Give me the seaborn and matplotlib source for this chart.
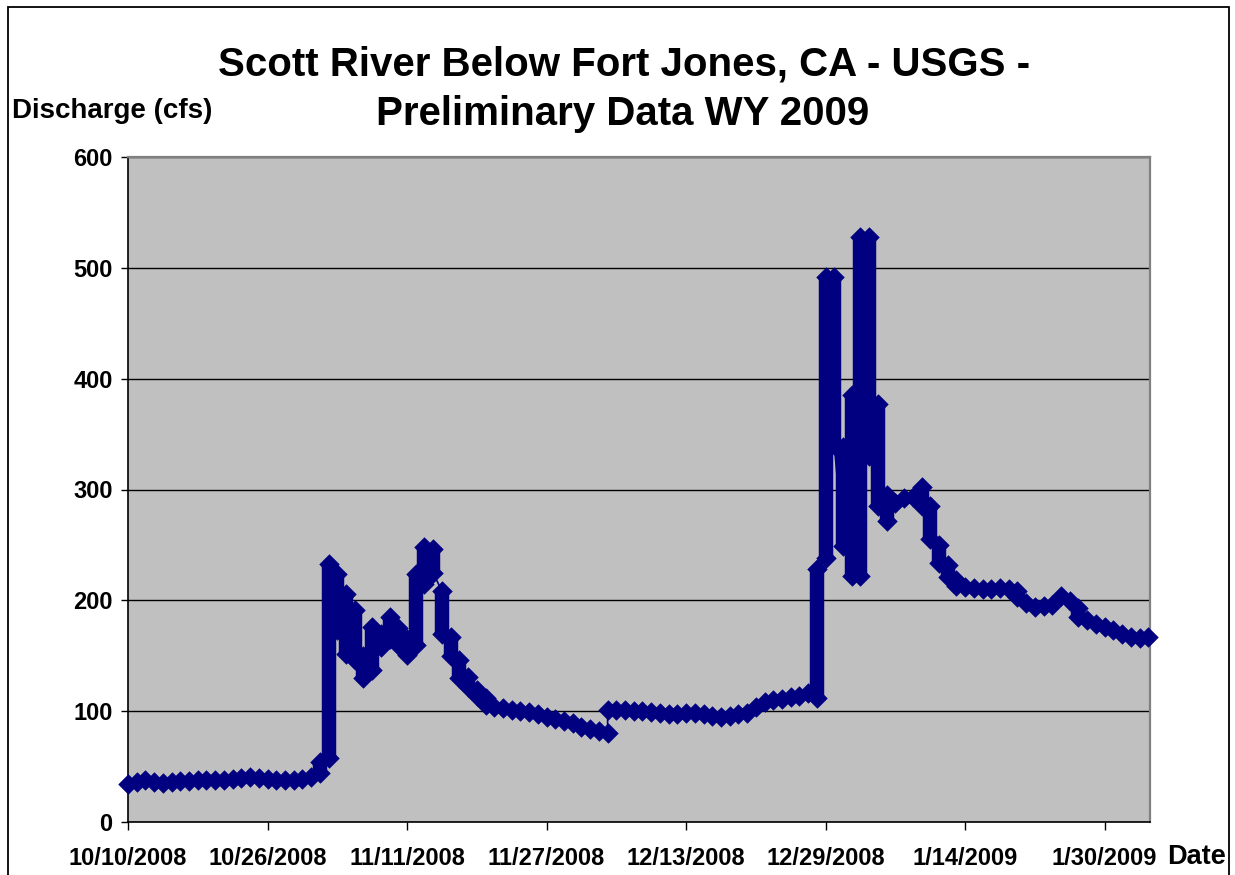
import numpy as np
import pandas as pd
import matplotlib
matplotlib.use("Agg")
import matplotlib.pyplot as plt
import matplotlib.dates as mdates
from matplotlib.patches import Rectangle
import seaborn as sns

# ---------------------------------------------------------------- data
TITLE_LINES = ["Scott River Below Fort Jones, CA - USGS -",
               "Preliminary Data WY 2009"]
Y_LABEL = "Discharge (cfs)"
X_LABEL = "Date"

FIRST_DAY = "2008-10-10"
LAST_DAY = "2009-02-04"

# daily low / high of the 15-minute discharge readings (cfs)
flow_low = [
    34, 36, 38, 36, 35, 36, 37, 37, 38, 38,      # 10/10 - 10/19
    38, 38, 39, 40, 41, 40, 39, 38, 38, 38,      # 10/20 - 10/29
    39, 41, 44, 58, 173, 152, 146, 130, 137, 158,  # 10/30 - 11/8
    165, 160, 151, 160, 215, 225, 170, 150, 130, 122,  # 11/9 - 11/18
    114, 106, 104, 103, 101, 100, 99, 97, 95, 93,  # 11/19 - 11/28
    91, 89, 86, 84, 82, 80, 101, 101, 100, 100,  # 11/29 - 12/8
    99, 98, 97, 97, 98, 98, 97, 96, 95, 96,      # 12/9 - 12/18
    97, 98, 104, 108, 110, 111, 113, 114, 116, 112,  # 12/19 - 12/28
    238, 340, 249, 222, 222, 330, 285, 272, 288, 292,  # 12/29 - 1/7
    293, 285, 255, 234, 221, 213, 212, 211, 210, 210,  # 1/8 - 1/17
    211, 210, 203, 198, 194, 195, 196, 204, 199, 185,  # 1/18 - 1/27
    182, 179, 176, 173, 170, 167, 166, 167,      # 1/28 - 2/4
]
flow_high = [
    34, 36, 38, 36, 35, 36, 37, 37, 38, 38,
    38, 38, 39, 40, 41, 40, 39, 38, 38, 38,
    39, 41, 54, 233, 224, 206, 191, 150, 176, 170,
    185, 175, 165, 224, 248, 246, 208, 167, 146, 131,
    119, 112, 104, 103, 101, 100, 99, 97, 95, 93,
    91, 89, 86, 84, 82, 101, 101, 101, 100, 100,
    99, 98, 97, 97, 98, 98, 97, 96, 95, 96,
    97, 98, 104, 108, 110, 111, 113, 114, 116, 228,
    492, 492, 338, 385, 528, 528, 377, 295, 288, 292,
    293, 302, 285, 250, 232, 218, 212, 211, 210, 210,
    211, 210, 208, 198, 194, 195, 196, 204, 199, 193,
    182, 179, 176, 173, 170, 167, 166, 167,
]
# days on which the record steps straight between two levels
step_days = ["2008-12-04"]

tick_dates = ["2008-10-10", "2008-10-26", "2008-11-11", "2008-11-27",
              "2008-12-13", "2008-12-29", "2009-01-14", "2009-01-30"]
tick_labels = ["10/10/2008", "10/26/2008", "11/11/2008", "11/27/2008",
               "12/13/2008", "12/29/2008", "1/14/2009", "1/30/2009"]
y_ticks = [0, 100, 200, 300, 400, 500, 600]

# ---------------------------------------------------------------- style
NAVY = "#000080"
PLOT_BG = "#C0C0C0"
W, H = 1235, 875

sns.set_theme(style="white")
plt.rcParams["font.family"] = ["Liberation Sans", "DejaVu Sans"]
plt.rcParams["text.color"] = "black"
plt.rcParams["xtick.color"] = "black"
plt.rcParams["ytick.color"] = "black"

fig = plt.figure(figsize=(W / 100, H / 100), dpi=100)
fig.patch.set_facecolor("white")
ax = fig.add_axes([128 / W, (H - 822) / H, (1150 - 128) / W, (822 - 157) / H])
ax.set_facecolor(PLOT_BG)

days = pd.date_range(FIRST_DAY, LAST_DAY, freq="D")
x = mdates.date2num(days.to_pydatetime())
lo = np.asarray(flow_low, dtype=float)
hi = np.asarray(flow_high, dtype=float)
is_step = np.isin(days, pd.to_datetime(step_days))

# stacked readings of each day form a solid column between low and high
sweep = (hi > lo) & ~is_step
ax.vlines(x[sweep], lo[sweep], hi[sweep], colors=NAVY, linewidth=10.4,
          zorder=3, clip_on=False)

# connecting series line, leaving each day toward the next one
mid = (lo + hi) / 2
px, py = [], []
for i in range(len(x)):
    rising = i + 1 < len(x) and mid[i + 1] >= mid[i]
    first, second = (lo[i], hi[i]) if rising else (hi[i], lo[i])
    px += [x[i], x[i]]
    py += [first, second]
sns.lineplot(x=px, y=py, estimator=None, sort=False, color=NAVY,
             linewidth=1.2, ax=ax, zorder=2)

# diamond markers at each day's extremes
mx = np.concatenate([x, x[hi > lo]])
my = np.concatenate([lo, hi[hi > lo]])
sns.scatterplot(x=mx, y=my, marker="D", s=100, color=NAVY, edgecolor=NAVY,
                linewidth=0.4, ax=ax, zorder=4, clip_on=False, legend=False)

# ---------------------------------------------------------------- axes
ax.set_xlim(x[0], x[-1] + 0.2)
ax.set_ylim(0, 600)
ax.set_xticks(mdates.date2num(pd.to_datetime(tick_dates).to_pydatetime()))
ax.set_xticklabels(tick_labels, fontsize=17, fontweight="bold", color="black")
ax.set_yticks(y_ticks)
ax.set_yticklabels([str(v) for v in y_ticks], fontsize=17, fontweight="bold",
                   color="black")
ax.tick_params(axis="x", bottom=True, direction="out", length=6, width=1,
               color="black", pad=12)
ax.tick_params(axis="y", left=True, direction="out", length=5, width=1,
               color="black", pad=6)
ax.set_xlabel("")
ax.set_ylabel("")

ax.yaxis.grid(True, color="black", linewidth=1)
ax.xaxis.grid(False)
ax.set_axisbelow(True)

for side in ("left", "bottom"):
    ax.spines[side].set_color("black")
    ax.spines[side].set_linewidth(1.2)
for side in ("top", "right"):
    ax.spines[side].set_color("#808080")
    ax.spines[side].set_linewidth(1.6)
for s in ax.spines.values():
    s.set_visible(True)

# ---------------------------------------------------------------- text
fig.text(624 / W, 1 - 76 / H, TITLE_LINES[0], fontsize=29, fontweight="bold",
         ha="center", va="baseline", color="black")
fig.text(623 / W, 1 - 125 / H, TITLE_LINES[1], fontsize=29, fontweight="bold",
         ha="center", va="baseline", color="black")
fig.text(12 / W, 1 - 118 / H, Y_LABEL, fontsize=20, fontweight="bold",
         ha="left", va="baseline", color="black")
fig.text(1167 / W, 1 - 864 / H, X_LABEL, fontsize=19.5, fontweight="bold",
         ha="left", va="baseline", color="black")

# chart frame
fig.add_artist(Rectangle((8 / W, -0.05), (1229 - 8) / W, 0.05 + (H - 7) / H,
                         transform=fig.transFigure, fill=False,
                         edgecolor="black", linewidth=1.3))

fig.savefig("out.png", dpi=100, facecolor="white")
